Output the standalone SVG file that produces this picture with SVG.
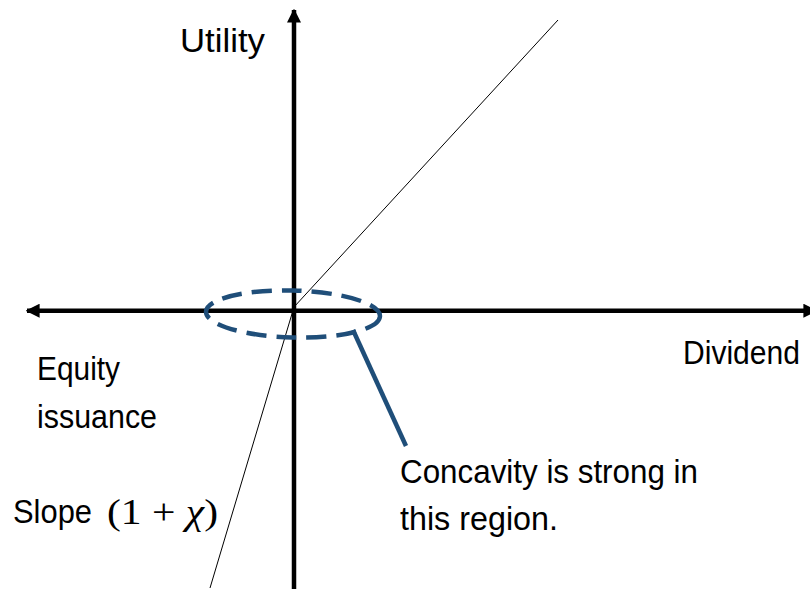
<svg xmlns="http://www.w3.org/2000/svg" width="810" height="589" viewBox="0 0 810 589">
<style>
.lbl{font-family:"Liberation Sans",Arial,sans-serif;font-size:33px;fill:#000}
.math{font-family:"Liberation Serif","Times New Roman",serif;font-size:35px;fill:#000}
.axis{stroke:#000;stroke-width:4.5;fill:none}
.blue{stroke:#1f4e79;stroke-width:4.5;fill:none}
</style>
<defs>
<marker id="ah" viewBox="0 0 10 10" refX="9" refY="5" markerWidth="14" markerHeight="14" markerUnits="userSpaceOnUse" orient="auto">
<path d="M0,0 L10,5 L0,10 Z" fill="#000"/>
</marker>
</defs>
<rect width="810" height="589" fill="#fff"/>
<g id="connectors">
<line class="axis" x1="294" y1="589" x2="294" y2="10" marker-end="url(#ah)"/>
<line class="axis" x1="294" y1="310.7" x2="27" y2="310.7" marker-end="url(#ah)"/>
<line class="axis" x1="294" y1="310.7" x2="816" y2="310.7" marker-end="url(#ah)"/>
<polyline points="558,20 294,307 210,588" fill="none" stroke="#000" stroke-width="1"/>
<line class="blue" x1="353" y1="330" x2="406" y2="446"/>
</g>
<g id="region">
<ellipse class="blue" cx="293" cy="314" rx="87" ry="23.5" transform="rotate(1.5 293 314)" stroke-dasharray="20 10"/>
</g>
<g id="utility"><text class="lbl" x="180" y="52" textLength="85" lengthAdjust="spacingAndGlyphs">Utility</text></g>
<g id="dividend"><text class="lbl" x="683" y="364" textLength="117" lengthAdjust="spacingAndGlyphs">Dividend</text></g>
<g id="equity"><text class="lbl" x="37" y="380" textLength="83" lengthAdjust="spacingAndGlyphs">Equity</text>
<text class="lbl" x="37" y="428" textLength="120" lengthAdjust="spacingAndGlyphs">issuance</text></g>
<g id="concavity"><text class="lbl" x="400" y="483" textLength="298" lengthAdjust="spacingAndGlyphs">Concavity is strong in</text>
<text class="lbl" x="400" y="530" textLength="158" lengthAdjust="spacingAndGlyphs">this region.</text></g>
<g id="slope"><text class="lbl" x="13" y="523" textLength="79" lengthAdjust="spacingAndGlyphs">Slope</text>
<text class="math" x="107" y="524" textLength="111" lengthAdjust="spacingAndGlyphs">(1 + <tspan font-style="italic">χ</tspan>)</text></g>
</svg>
